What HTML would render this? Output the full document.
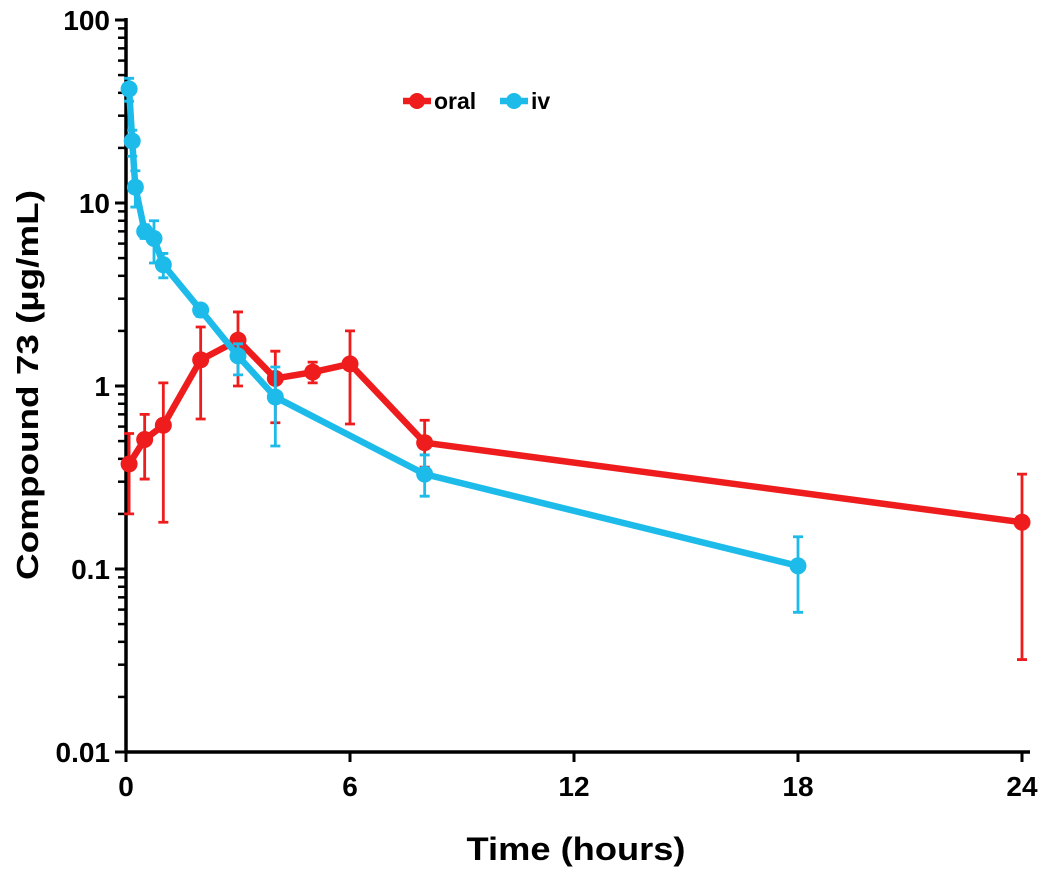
<!DOCTYPE html>
<html><head><meta charset="utf-8"><style>
body{margin:0;background:#fff;}
svg{display:block;font-family:"Liberation Sans",Arial,sans-serif;font-weight:bold;}
</style></head><body>
<svg id="chart" width="1050" height="874" viewBox="0 0 1050 874"></svg>
<script>
const xTicks=[0,6,12,18,24];
const yTicks=[0.01,0.1,1,10,100];
const yTickLabels=["0.01","0.1","1","10","100"];
const oralT=[0.083,0.5,1,2,3,4,5,6,8,24];
const oralV=[0.375,0.51,0.61,1.39,1.78,1.1,1.19,1.32,0.49,0.18];
const oralHi=[0.55,0.70,1.04,2.1,2.54,1.55,1.35,2.0,0.65,0.33];
const oralLo=[0.2,0.31,0.18,0.66,1.0,0.63,1.04,0.62,0.36,0.032];
const ivT=[0.083,0.167,0.25,0.5,0.75,1,2,3,4,8,18];
const ivV=[42,21.8,12.2,7.0,6.4,4.6,2.6,1.46,0.87,0.33,0.104];
const ivHi=[48,25,15,7.6,8.0,5.3,2.8,1.7,1.27,0.42,0.15];
const ivLo=[36,18,9.5,6.4,4.7,3.9,2.4,1.15,0.47,0.25,0.058];

const NS="http://www.w3.org/2000/svg";
const svg=document.getElementById('chart');
const X0=126,X1=1022,Y0=752,Y1=20;
function xs(t){return X0+(t/24)*(X1-X0);}
function ys(v){return Y0-(Math.log10(v)+2)/4*(Y0-Y1);}
function mk(tag,attrs,parent){const e=document.createElementNS(NS,tag);for(const k in attrs)e.setAttribute(k,attrs[k]);(parent||svg).appendChild(e);return e;}

const ax=mk('g',{});


mk('line',{x1:X0,y1:Y1-2,x2:X0,y2:Y0,stroke:'#000','stroke-width':3.5},ax);
mk('line',{x1:X0,y1:Y0,x2:1030,y2:Y0,stroke:'#000','stroke-width':3.5},ax);
yTicks.forEach((v,i)=>{
  const y=ys(v);
  mk('line',{x1:X0-11,y1:y,x2:X0,y2:y,stroke:'#000','stroke-width':3},ax);
  const t=mk('text',{x:110,y:y+10,'text-anchor':'end','font-size':28},ax);
  t.textContent=yTickLabels[i];
  
  
  if(i<yTicks.length-1){for(let m=2;m<=9;m++){const yy=ys(v*m);mk('line',{x1:X0-8,y1:yy,x2:X0,y2:yy,stroke:'#000','stroke-width':2.5},ax);}}
});
xTicks.forEach(v=>{
  const x=xs(v);
  mk('line',{x1:x,y1:Y0,x2:x,y2:Y0+10,stroke:'#000','stroke-width':3},ax);
  const t=mk('text',{x:x,y:796,'text-anchor':'middle','font-size':28},ax);
  t.textContent=v;
  
  
});
const xt=mk('text',{x:576,y:860,'text-anchor':'middle','font-size':32,textLength:219,lengthAdjust:'spacingAndGlyphs'});
xt.textContent='Time (hours)';


const yt=mk('text',{x:0,y:0,'text-anchor':'middle','font-size':31,textLength:390,lengthAdjust:'spacingAndGlyphs',transform:'translate(38,385) rotate(-90)'});
yt.textContent='Compound 73 (µg/mL)';



function series(T,V,H,L,color,name){
  const g=mk('g',{});
  
  
  T.forEach((t,i)=>{
    const x=xs(t);
    const e=mk('path',{d:`M${x},${ys(H[i])}V${ys(L[i])}M${x-5},${ys(H[i])}h10M${x-5},${ys(L[i])}h10`,stroke:color,'stroke-width':2.8,fill:'none'},g);
    
    
  });
  const p=mk('polyline',{points:T.map((t,i)=>xs(t)+','+ys(V[i])).join(' '),stroke:color,'stroke-width':6.5,fill:'none','stroke-linejoin':'round'},g);
  
  
  T.forEach((t,i)=>{
    const c=mk('circle',{cx:xs(t),cy:ys(V[i]),r:8.5,fill:color},g);
    
    
  });
}
series(oralT,oralV,oralHi,oralLo,'#ee1c1c','oral');
series(ivT,ivV,ivHi,ivLo,'#1dbbea','iv');

function legend(x,color,label){
  const g=mk('g',{});
  
  
  mk('line',{x1:x,y1:101,x2:x+28,y2:101,stroke:color,'stroke-width':6.5},g);
  mk('circle',{cx:x+14,cy:101,r:8,fill:color},g);
  const t=mk('text',{x:x+31,y:109,'font-size':23},g);
  t.textContent=label;
}
legend(403,'#ee1c1c','oral');
legend(500,'#1dbbea','iv');
</script>
</body></html>
